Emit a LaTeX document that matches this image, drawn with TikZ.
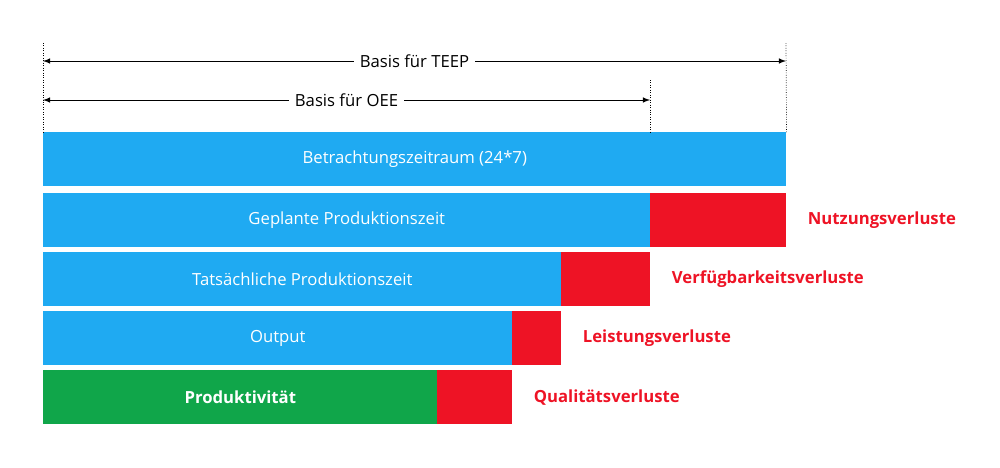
\documentclass[tikz,border=0pt]{standalone}
\usepackage{fontspec}
\setmainfont{Open Sans}
\usetikzlibrary{arrows,positioning}
\definecolor{barblue}{HTML}{1FAAF2}
\definecolor{barred}{HTML}{EE1325}
\definecolor{bargreen}{HTML}{10A64A}
\tikzset{bar/.style={draw=none,anchor=north west,inner sep=0pt,minimum height=1.07cm,text=white,font=\fontsize{9.5}{10}\selectfont}}
\tikzset{loss/.style={anchor=west,text=barred,font=\fontsize{9.5}{10}\selectfont\bfseries}}
\tikzset{dim/.style={fill=white,font=\fontsize{9.5}{10}\selectfont}}
\begin{document}
\begin{tikzpicture}[x=0.02cm,y=-0.02cm]
        \useasboundingbox (0,0) rectangle (1000,467);
        % bars
        \node[bar,fill=barblue,minimum width=14.86cm] (total) at (43,132) {Betrachtungszeitraum (24*7)};
        \node[bar,fill=barblue,minimum width=12.14cm] (plan) at (43,193) {Geplante Produktionszeit};
        \node[bar,fill=barred,minimum width=2.72cm] (planloss) at (650,193) {};
        \node[bar,fill=barblue,minimum width=10.36cm] (real) at (43,252) {Tats\"achliche Produktionszeit};
        \node[bar,fill=barred,minimum width=1.78cm] (realloss) at (561,252) {};
        \node[bar,fill=barblue,minimum width=9.38cm] (out) at (43,311) {Output};
        \node[bar,fill=barred,minimum width=0.98cm] (outloss) at (512,311) {};
        \node[bar,fill=bargreen,minimum width=7.88cm,font=\fontsize{9.5}{10}\selectfont\bfseries] (prod) at (43,370) {Produktivit\"at};
        \node[bar,fill=barred,minimum width=1.5cm] (prodloss) at (437,370) {};
        % losses
        \node[loss,right=0.3cm of planloss] {Nutzungsverluste};
        \node[loss,right=0.3cm of realloss] {Verf\"ugbarkeitsverluste};
        \node[loss,right=0.3cm of outloss] {Leistungsverluste};
        \node[loss,right=0.3cm of prodloss] {Qualit\"atsverluste};
        % dimensions
        \coordinate (tl) at (43,43);
        \coordinate (tr) at (786,43);
        \coordinate (or) at (650,80);
        \draw[densely dotted] (tl) -- (total.north west);
        \draw[densely dotted] (tr) -- (total.north east);
        \draw[densely dotted] (or) -- (650,132);
        \draw[latex-latex] (43,61) -- node[dim] {Basis f\"ur TEEP} (786,61);
        \draw[latex-latex] (43,100) -- node[dim] {Basis f\"ur OEE} (650,100);
\end{tikzpicture}
\end{document}
